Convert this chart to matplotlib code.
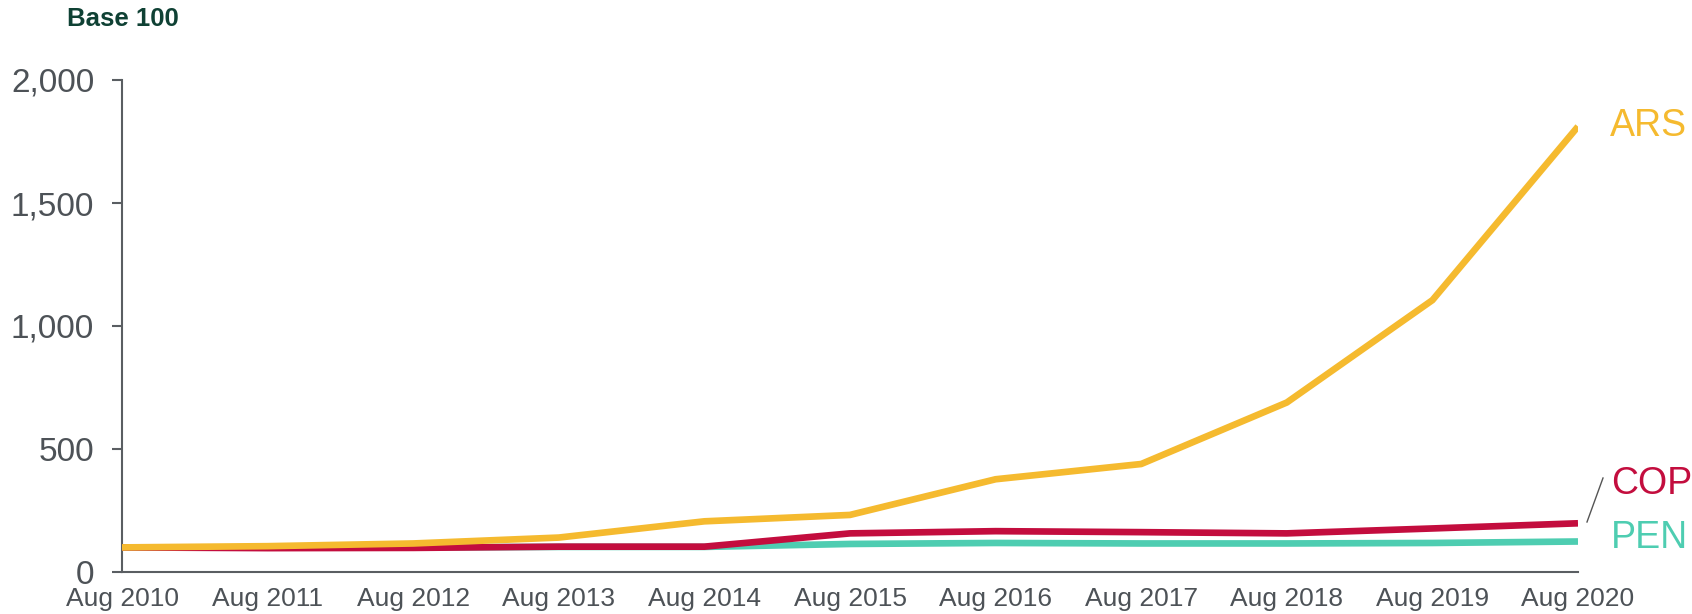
import matplotlib
matplotlib.use("Agg")
import matplotlib.pyplot as plt
from matplotlib.lines import Line2D
from matplotlib.ticker import FuncFormatter

# ---- data ----
years = ["Aug 2010", "Aug 2011", "Aug 2012", "Aug 2013", "Aug 2014", "Aug 2015",
         "Aug 2016", "Aug 2017", "Aug 2018", "Aug 2019", "Aug 2020"]
ars = [100, 105, 116, 140, 206, 232, 377, 439, 689, 1105, 1811]
cop = [100, 97, 98, 103, 103, 157, 166, 162, 157, 177, 198]
pen = [100, 99, 100, 102, 102, 114, 118, 116, 116, 118, 124]
yticks = [0, 500, 1000, 1500, 2000]

C_ARS = "#F5BA2F"
C_COP = "#C30D3E"
C_PEN = "#4ECDB1"
C_TXT = "#4D5257"
C_AX = "#5A5E62"

plt.rcParams['font.family'] = ['Liberation Sans', 'DejaVu Sans']

fig = plt.figure(figsize=(16.92, 6.14), dpi=100)
ax = fig.add_axes([122/1692, 42/614, (1578-122)/1692, (572-80)/614])

x = list(range(len(years)))
ax.plot(x, pen, color=C_PEN, lw=4.8, solid_capstyle='butt', zorder=3)
ax.plot(x, cop, color=C_COP, lw=4.8, solid_capstyle='butt', zorder=4)
ax.plot(x, ars, color=C_ARS, lw=4.8, solid_capstyle='butt', zorder=5)

ax.set_xlim(0, len(years) - 1)
ax.set_ylim(0, 2000)
ax.set_yticks(yticks)
ax.yaxis.set_major_formatter(FuncFormatter(lambda v, p: f"{int(v):,}"))
ax.set_xticks(x)
ax.set_xticklabels(years)

for s in ['top', 'right']:
    ax.spines[s].set_visible(False)
for s in ['left', 'bottom']:
    ax.spines[s].set_color(C_AX)
    ax.spines[s].set_linewidth(1.5)

ax.tick_params(axis='y', length=7, width=1.5, color=C_AX, labelsize=24,
               labelcolor=C_TXT, pad=13)
ax.tick_params(axis='x', length=0, labelsize=19, labelcolor=C_TXT, pad=11)

# series labels
ax.annotate("ARS", xy=(x[-1], ars[-1]), xytext=(23, 0), textcoords='offset points',
            color=C_ARS, fontsize=27, va='center', ha='left', annotation_clip=False)
ax.annotate("COP", xy=(x[-1], cop[-1]), xytext=(24, 28), textcoords='offset points',
            color=C_COP, fontsize=27, va='center', ha='left', annotation_clip=False)
ax.annotate("PEN", xy=(x[-1], pen[-1]), xytext=(24, 2.5), textcoords='offset points',
            color=C_PEN, fontsize=27, va='center', ha='left', annotation_clip=False)

# leader line
fig.add_artist(Line2D([1587/1692, 1603/1692], [1 - 522/614, 1 - 478/614],
                      color="#555555", lw=1.0))

fig.text(67/1692, 1 - 19/614, "Base 100", fontsize=18.5, fontweight='bold',
         color="#0F4134", va='center', ha='left')

fig.savefig("out.png", dpi=100)
